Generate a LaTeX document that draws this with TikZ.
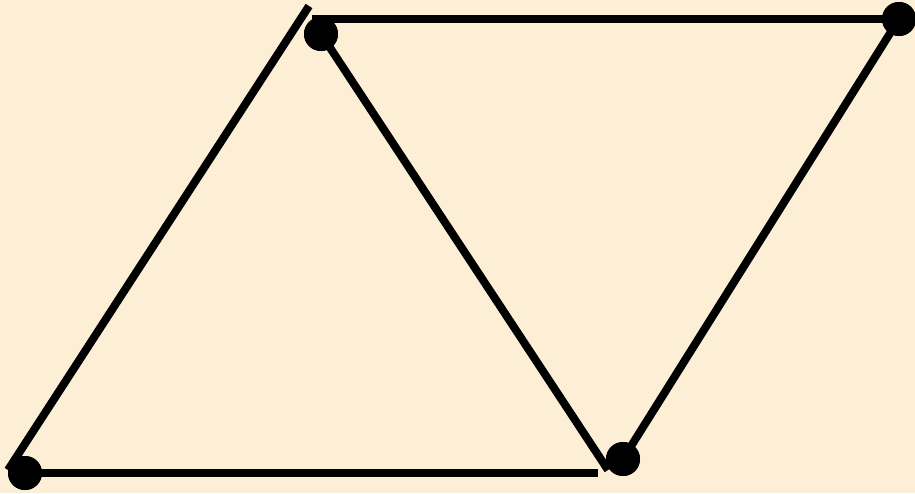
\documentclass[tikz,border=0pt]{standalone}
\definecolor{bgcream}{RGB}{252,239,214}
\tikzset{
  edge/.style={line width=8pt, black, line cap=butt},
  dot/.style={circle, fill=black, inner sep=0pt, minimum size=34pt}
}
\begin{document}
\begin{tikzpicture}[x=1pt,y=-1pt]
\fill[bgcream] (0,0) rectangle (915,493);
\useasboundingbox (0,0) rectangle (915,493);
% line end points
\coordinate (lb) at (8,470);
\coordinate (lt) at (309,6);
\coordinate (ts) at (312,19);
\coordinate (te) at (900,19);
\coordinate (me) at (608,470);
\coordinate (bs) at (25,473);
\coordinate (be) at (598,473);
% dots
\node[dot] (A) at (321,34) {};
\node[dot] (B) at (899,19) {};
\node[dot] (C) at (623,459) {};
\node[dot] (D) at (25,473) {};
% edges
\draw[edge] (lb) -- (lt);
\draw[edge] (ts) -- (te);
\draw[edge] (A.center) -- (me);
\draw[edge] (B.center) -- (C.center);
\draw[edge] (bs) -- (be);
% redraw dots on top
\node[dot] at (A) {};
\node[dot] at (B) {};
\node[dot] at (C) {};
\node[dot] at (D) {};
\end{tikzpicture}
\end{document}
